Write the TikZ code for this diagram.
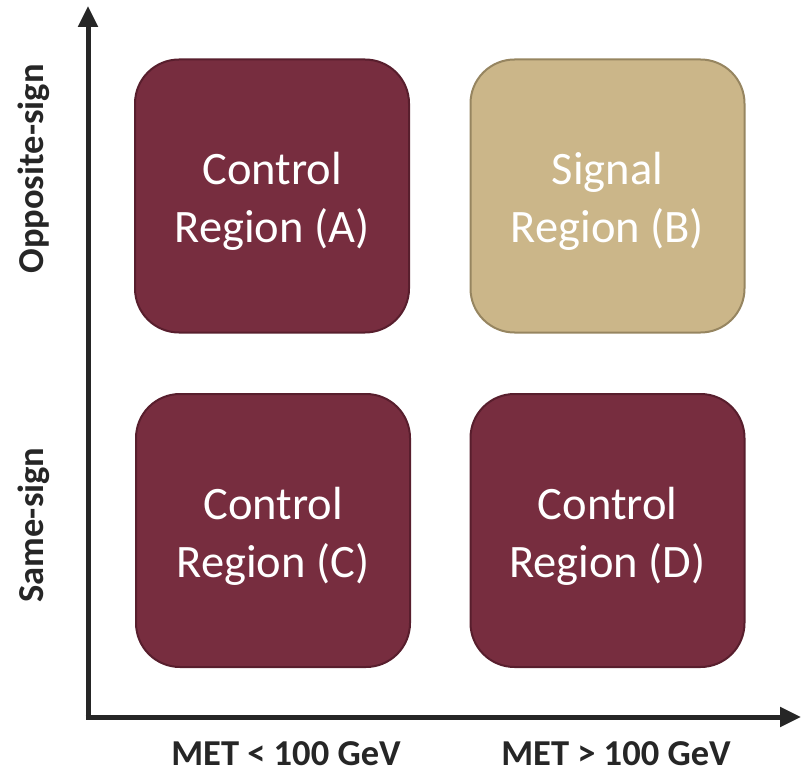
\documentclass[tikz,border=0pt]{standalone}
\usepackage{fontspec}
\setmainfont{Carlito}
\usetikzlibrary{arrows.meta}
\definecolor{maroon}{RGB}{119,45,63}
\definecolor{maroonedge}{RGB}{88,30,45}
\definecolor{tan}{RGB}{203,182,137}
\definecolor{tanedge}{RGB}{150,133,96}
\definecolor{axis}{RGB}{38,38,38}
\tikzset{
  regiontext/.style={align=center, text=white, font=\fontsize{46.5}{58}\selectfont, inner sep=0pt},
  region/.style={rectangle, rounded corners=44pt, minimum width=274pt, minimum height=273pt,
    line width=2pt, inner sep=0pt,
    label={[regiontext, yshift=-5.5pt]center:#1}},
  ctrl/.style={region={#1}, fill=maroon, draw=maroonedge},
  sig/.style={region={#1}, fill=tan, draw=tanedge},
  axisline/.style={line width=5pt, draw=axis, -{Triangle[width=19pt,length=21pt]}},
  axislabel/.style={font=\bfseries\fontsize{36.5}{44}\selectfont, text=axis, inner sep=0pt}
}
\begin{document}
\begin{tikzpicture}[x=1pt,y=-1pt]
\useasboundingbox (0,0) rectangle (801,773);
\node[ctrl={Control\\Region (A)}] (A) at (272,196) {};
\node[sig={Signal\\Region (B)}] (B) at (607.5,196) {};
\node[ctrl={Control\\Region (C)}] (C) at (273,530.5) {};
\node[ctrl={Control\\Region (D)}] (D) at (607.5,530.5) {};
\coordinate (O) at (88,719.5);
\coordinate (Ytop) at (88,6);
\coordinate (Xend) at (801,717);
\draw[axisline] (O) -- (Ytop);
\draw[axisline] (85.5,717) -- (Xend);
\node[axislabel, anchor=base] (M1) at (286,765) {MET < 100 GeV};
\node[axislabel, anchor=base] (M2) at (616,765) {MET > 100 GeV};
\node[axislabel, rotate=90, anchor=base] (S1) at (43,169) {Opposite-sign};
\node[axislabel, rotate=90, anchor=base] (S2) at (43,525) {Same-sign};
\end{tikzpicture}
\end{document}
